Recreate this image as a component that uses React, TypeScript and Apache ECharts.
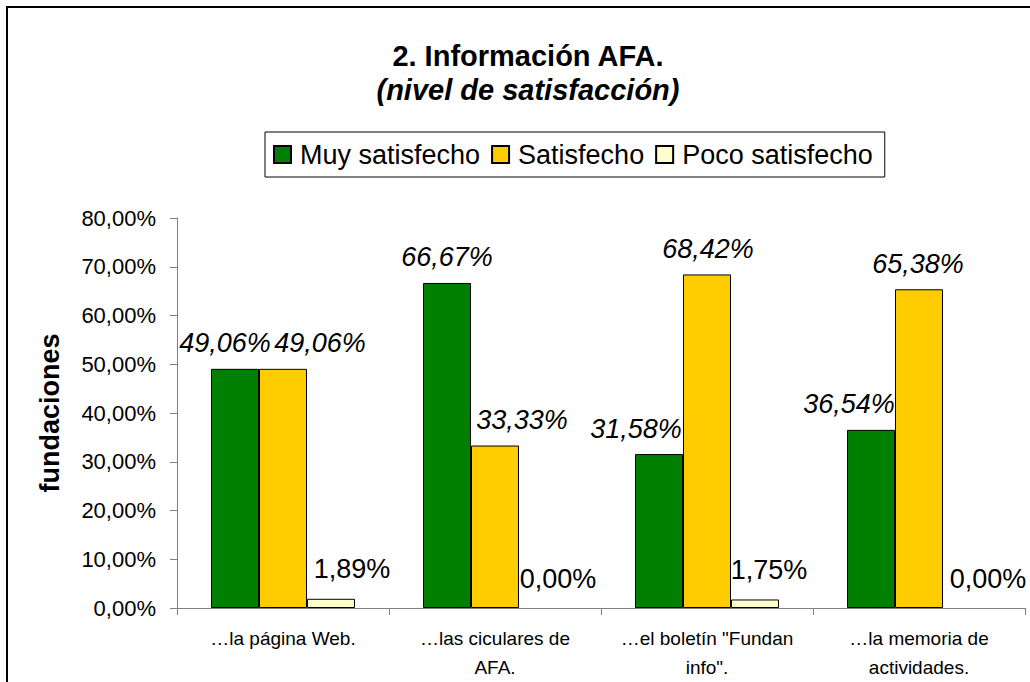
import React, { useEffect, useRef } from "react";
import * as echarts from "echarts";

const categories = [
  "…la página Web.",
  "…las ciculares de\nAFA.",
  "…el boletín \"Fundan\ninfo\".",
  "…la memoria de\nactividades.",
];
const seriesNames = ["Muy satisfecho", "Satisfecho", "Poco satisfecho"];
const muySatisfecho = [49.06, 66.67, 31.58, 36.54];
const satisfecho = [49.06, 33.33, 68.42, 65.38];
const pocoSatisfecho = [1.89, 0.0, 1.75, 0.0];

// label horizontal nudges (layout only)
const nudgeMuy = [-10, 0, -23, -22];
const nudgeSat = [37, 27, 1, -1];
const nudgePoco = [21, 15, 14, 21];

const FONT = "'Liberation Sans', Arial, sans-serif";
const fmt = (v: number) => v.toFixed(2).replace(".", ",") + "%";

export default function App() {
  const ref = useRef<HTMLDivElement>(null);
  useEffect(() => {
    if (!ref.current) return;
    const chart = echarts.init(ref.current, undefined, { renderer: "svg" });
    const mk = (
      name: string,
      values: number[],
      nudges: number[],
      color: string,
      italic: boolean,
      distance: number
    ) => ({
      name,
      type: "bar",
      barWidth: 48,
      barGap: "0%",
      itemStyle: { color, borderColor: "#000", borderWidth: 1 },
      label: {
        show: true,
        position: "top",
        distance,
        formatter: (p: any) => fmt(p.value),
        fontFamily: FONT,
        fontSize: 27,
        fontStyle: italic ? "italic" : "normal",
        color: "#000",
      },
      data: values.map((v, i) => ({
        value: v,
        itemStyle: v === 0 ? { borderWidth: 0, color: "rgba(0,0,0,0)" } : undefined,
        label: { offset: [nudges[i], 0] },
      })),
    });
    chart.setOption({
      animation: false,
      backgroundColor: "#fff",
      textStyle: { fontFamily: FONT },
      title: [
        {
          text: "2. Información AFA.",
          left: 523,
          top: 36,
          textAlign: "center",
          textStyle: { fontFamily: FONT, fontSize: 29, fontWeight: "bold", color: "#000" },
        },
        {
          text: "(nivel de satisfacción)",
          left: 523,
          top: 70,
          textAlign: "center",
          textStyle: {
            fontFamily: FONT,
            fontSize: 29,
            fontWeight: "bold",
            fontStyle: "italic",
            color: "#000",
          },
        },
      ],
      legend: {
        data: seriesNames,
        left: 265,
        top: 132,
        padding: [9, 12, 9, 8],
        itemGap: 11,
        itemWidth: 17,
        itemHeight: 17,
        icon: "rect",
        borderColor: "#000",
        borderWidth: 1,
        textStyle: { fontFamily: FONT, fontSize: 27, color: "#000", padding: [0, 0, 0, 4] },
      },
      graphic: [
        {
          type: "rect",
          shape: { x: 7, y: 7, width: 1100, height: 800 },
          style: { fill: "none", stroke: "#000", lineWidth: 2 },
          silent: true,
        },
      ],
      grid: { left: 177, top: 218, width: 848, height: 391, containLabel: false },
      xAxis: {
        type: "category",
        data: categories,
        axisLine: { lineStyle: { color: "#808080", width: 1 } },
        axisTick: { show: true, length: 7, lineStyle: { color: "#808080" } },
        axisLabel: {
          fontFamily: FONT,
          fontSize: 19,
          color: "#000",
          margin: 16,
          lineHeight: 29,
          interval: 0,
        },
        splitLine: { show: false },
      },
      yAxis: {
        type: "value",
        min: 0,
        max: 80,
        interval: 10,
        name: "fundaciones",
        nameLocation: "middle",
        nameGap: 114,
        nameRotate: 90,
        nameTextStyle: { fontFamily: FONT, fontSize: 27, fontWeight: "bold", color: "#000" },
        axisLine: { show: true, lineStyle: { color: "#808080", width: 1 } },
        axisTick: { show: true, length: 7, lineStyle: { color: "#808080" } },
        axisLabel: {
          fontFamily: FONT,
          fontSize: 22,
          color: "#000",
          margin: 21,
          formatter: (v: number) => fmt(v),
        },
        splitLine: { show: false },
      },
      series: [
        mk(seriesNames[0], muySatisfecho, nudgeMuy, "#008000", true, 12),
        mk(seriesNames[1], satisfecho, nudgeSat, "#FFCC00", true, 12),
        mk(seriesNames[2], pocoSatisfecho, nudgePoco, "#FFFFCC", false, 16),
      ],
    });
    return () => chart.dispose();
  }, []);
  return (
    <div
      ref={ref}
      style={{ position: "absolute", left: 0, top: 0, width: 1030, height: 682, background: "#fff" }}
    />
  );
}
